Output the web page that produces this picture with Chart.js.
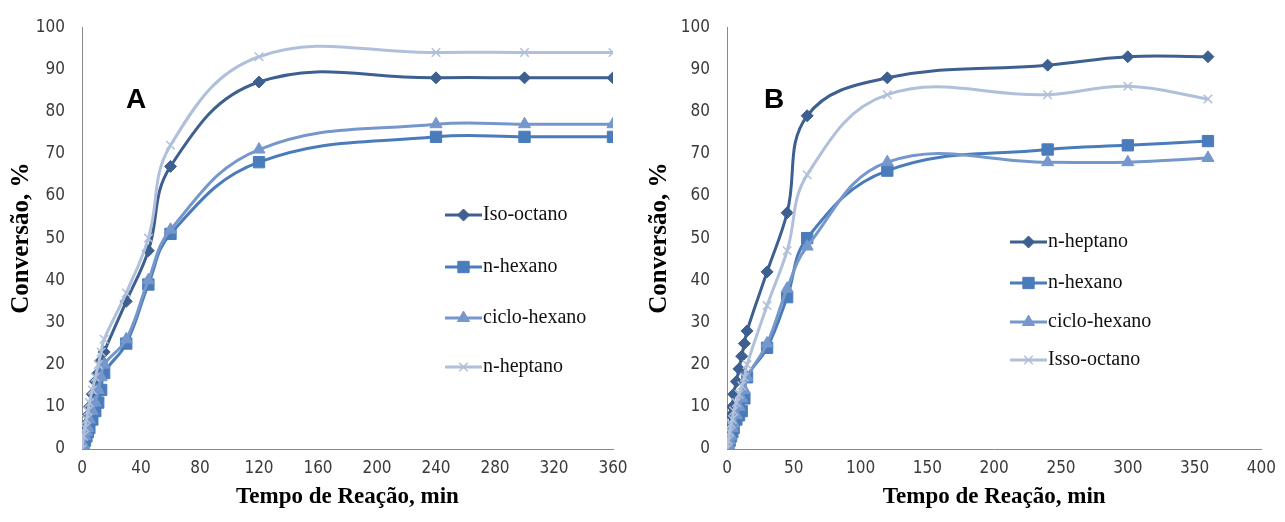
<!DOCTYPE html>
<html><head><meta charset="utf-8">
<script src="https://cdn.jsdelivr.net/npm/chart.js@4.4.0/dist/chart.umd.min.js"></script>
<style>
html,body{margin:0;padding:0;background:#fff;width:1285px;height:522px;overflow:hidden}
#a{position:absolute;left:0;top:0}
#b{position:absolute;left:645px;top:0}
</style></head><body>
<canvas id="a" width="642" height="522"></canvas>
<canvas id="b" width="640" height="522"></canvas>
<script>
// ---- data ----
const times = [0, 1, 2, 3, 4, 5, 7, 9, 11, 13, 15, 30, 45, 60, 120, 240, 300, 360];

// Chart A
const labelsA = ['Iso-octano', 'n-hexano', 'ciclo-hexano', 'n-heptano'];
const isoOctanoA = [0, 2, 4, 6, 8, 10, 13, 16, 18, 21, 23, 35, 47, 67, 87, 88, 88, 88];
const nHexanoA   = [0, 1, 2, 3, 4, 5, 7, 9, 11, 14, 18, 25, 39, 51, 68, 74, 74, 74];
const cicloHexA  = [0, 1, 3, 4, 5, 7, 9, 11, 14, 17, 20, 26, 40, 52, 71, 77, 77, 77];
const nHeptanoA  = [0, 3, 5, 7, 9, 11, 14, 17, 20, 23, 26, 37, 50, 72, 93, 94, 94, 94];

// Chart B
const labelsB = ['n-heptano', 'n-hexano', 'ciclo-hexano', 'Isso-octano'];
const nHeptanoB  = [0, 3, 5, 8, 10, 13, 16, 19, 22, 25, 28, 42, 56, 79, 88, 91, 93, 93];
const nHexanoB   = [0, 1, 2, 3, 4, 5, 7, 8, 9, 12, 17, 24, 36, 50, 66, 71, 72, 73];
const cicloHexB  = [0, 1, 2, 3, 5, 6, 8, 10, 12, 14, 17, 25, 38, 48, 68, 68, 68, 69];
const issoOctB   = [0, 2, 4, 6, 7, 9, 11, 13, 15, 17, 20, 34, 47, 65, 84, 84, 86, 83];

const xTicksA = {min: 0, max: 360, step: 40};
const xTicksB = {min: 0, max: 400, step: 50};
const yTicks = {min: 0, max: 100, step: 10};

// ---- styles ----
const DARK = '#3d6090', MID = '#4a7cbb', CICLO = '#7597cc', LIGHT = '#b1c0da';
const TICK_FONT = {family: '"Liberation Sans Narrow", "DejaVu Sans Condensed", "Liberation Sans", sans-serif', size: 17};
const XTITLE_FONT = {family: '"Liberation Serif", "Times New Roman", serif', size: 23, weight: 'bold'};
const YTITLE_FONT = {family: '"Liberation Serif", "Times New Roman", serif', size: 25, weight: 'bold'};

function pts(xs, ys) { return xs.map((x, i) => ({x: x, y: ys[i]})); }

function ds(label, values, color, style, radius, order) {
  return {
    label: label, data: pts(times, values),
    borderColor: color, backgroundColor: color,
    pointBackgroundColor: color, pointBorderColor: color,
    pointStyle: style, pointRadius: radius, pointBorderWidth: style === 'crossRot' ? 1.5 : 1,
    borderWidth: 3, tension: 0.4, order: order, fill: false
  };
}

const legendPlugin = {
  id: 'inLegend',
  afterDraw(chart, args, opts) {
    const ctx = chart.ctx;
    ctx.save();
    chart.data.datasets.forEach((d, i) => {
      const y = opts.rows[i], x0 = opts.x, len = opts.len;
      ctx.strokeStyle = d.borderColor; ctx.lineWidth = 3;
      ctx.beginPath(); ctx.moveTo(x0, y); ctx.lineTo(x0 + len, y); ctx.stroke();
      ctx.fillStyle = d.pointBackgroundColor; ctx.strokeStyle = d.pointBorderColor;
      ctx.lineWidth = d.pointBorderWidth;
      Chart.helpers.drawPoint(ctx, {pointStyle: d.pointStyle, radius: d.pointRadius, rotation: 0, borderWidth: d.pointBorderWidth}, x0 + len / 2, y);
      ctx.fillStyle = '#111';
      ctx.font = opts.font; ctx.textBaseline = 'middle'; ctx.textAlign = 'left';
      ctx.fillText(d.label, x0 + len + 1, y);
    });
    ctx.fillStyle = '#000';
    ctx.font = 'bold 28px "Liberation Sans", Arial, sans-serif';
    ctx.textAlign = 'center'; ctx.textBaseline = 'middle';
    ctx.fillText(opts.letter, opts.lx, opts.ly);
    ctx.restore();
  }
};

function makeChart(id, datasets, xt, cfg) {
  return new Chart(document.getElementById(id), {
    type: 'line',
    data: {datasets: datasets},
    plugins: [legendPlugin],
    options: {
      responsive: false, animation: false, devicePixelRatio: 1,
      layout: {padding: {left: 0, top: 22, right: cfg.padRight, bottom: 0}},
      plugins: {legend: {display: false}, tooltip: {enabled: false},
        inLegend: {x: cfg.legX, len: 37, rows: cfg.rows, font: '20px "Liberation Serif", "Times New Roman", serif',
                   letter: cfg.letter, lx: cfg.lx, ly: cfg.ly}},
      scales: {
        x: {
          type: 'linear', min: xt.min, max: xt.max,
          ticks: {stepSize: xt.step, color: '#3a3a3a', font: TICK_FONT, padding: 9, maxRotation: 0},
          grid: {display: false, drawTicks: false},
          border: {display: true, color: '#8a8a8a', width: 1},
          title: {display: true, text: 'Tempo de Reação, min', color: '#000', font: XTITLE_FONT, padding: {top: 0, bottom: 11}},
          afterFit: s => { s.height = 73; }
        },
        y: {
          min: yTicks.min, max: yTicks.max,
          ticks: {stepSize: yTicks.step, color: '#3a3a3a', font: TICK_FONT, padding: 17},
          grid: {display: false, drawTicks: false},
          border: {display: true, color: '#8a8a8a', width: 1},
          title: {display: true, text: 'Conversão, %', color: '#000', font: YTITLE_FONT, padding: {top: cfg.yTitlePad, bottom: 0}},
          afterFit: s => { s.width = 82; }
        }
      }
    }
  });
}

makeChart('a', [
  ds(labelsA[0], isoOctanoA, DARK, 'rectRot', 6, 4),
  ds(labelsA[1], nHexanoA, MID, 'rect', 8, 3),
  ds(labelsA[2], cicloHexA, CICLO, 'triangle', 7, 2),
  ds(labelsA[3], nHeptanoA, LIGHT, 'crossRot', 6, 1)
], xTicksA, {padRight: 29, legX: 445, rows: [215, 267, 318, 367], letter: 'A', lx: 136, ly: 100, yTitlePad: 7});

makeChart('b', [
  ds(labelsB[0], nHeptanoB, DARK, 'rectRot', 6, 4),
  ds(labelsB[1], nHexanoB, MID, 'rect', 8, 3),
  ds(labelsB[2], cicloHexB, CICLO, 'triangle', 7, 2),
  ds(labelsB[3], issoOctB, LIGHT, 'crossRot', 6, 1)
], xTicksB, {padRight: 23, legX: 365, rows: [242, 283, 322, 360], letter: 'B', lx: 129, ly: 100, yTitlePad: 0});
</script>
</body></html>
